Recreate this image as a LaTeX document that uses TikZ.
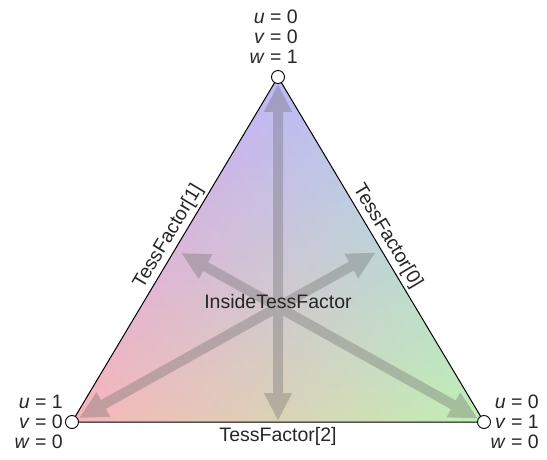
\documentclass[tikz,border=0pt]{standalone}
\usepackage{fontspec}
\setmainfont{Liberation Sans}
\usetikzlibrary{arrows.meta,calc}
\begin{document}
\begin{tikzpicture}[x=1pt,y=1pt,
  lbl/.style={font=\fontsize{19.5}{20}\selectfont, text=black!85, inner sep=0pt},
  vals/.style={lbl, align=right},
  vtx/.style={circle, draw=black, fill=white, line width=0.9pt, minimum size=13pt, inner sep=0pt},
  triedge/.style={draw=black, line width=1pt},
  tessarrow/.style={draw=black!58, line width=10pt, {Triangle[length=28pt,width=26pt]}-{Triangle[length=28pt,width=26pt]}}
]
\useasboundingbox (0,0) rectangle (547,459);
\coordinate (T) at (278,382);
\coordinate (L) at (72,37);
\coordinate (R) at (484,37);
\coordinate (mB) at ($(L)!0.5!(R)$);
\coordinate (mTR) at ($(T)!0.5!(R)$);
\coordinate (mTL) at ($(T)!0.5!(L)$);
% barycentric colour fill
\begin{scope}
\clip (T) -- (L) -- (R) -- cycle;
\foreach \i in {0,...,29}{
  \foreach \j in {0,...,\i}{
    \pgfmathsetmacro{\wT}{1-(\i+2/3)/30}
    \pgfmathsetmacro{\wR}{(\j+1/3)/30}
    \pgfmathsetmacro{\wL}{1-\wT-\wR}
    \pgfmathtruncatemacro{\cR}{190*\wT+248*\wL+192*\wR}
    \pgfmathtruncatemacro{\cG}{185*\wT+182*\wL+240*\wR}
    \pgfmathtruncatemacro{\cB}{248*\wT+186*\wL+182*\wR}
    \definecolor{cc}{RGB}{\cR,\cG,\cB}
    \filldraw[cc, line width=0.7pt, line join=round]
      ({278-206*\i/30+412*\j/30},{382-345*\i/30}) --
      ({278-206*(\i+1)/30+412*\j/30},{382-345*(\i+1)/30}) --
      ({278-206*(\i+1)/30+412*(\j+1)/30},{382-345*(\i+1)/30}) -- cycle;
    \ifnum\j<\i
      \pgfmathsetmacro{\wT}{1-(\i+1/3)/30}
      \pgfmathsetmacro{\wR}{(\j+2/3)/30}
      \pgfmathsetmacro{\wL}{1-\wT-\wR}
      \pgfmathtruncatemacro{\cR}{190*\wT+248*\wL+192*\wR}
      \pgfmathtruncatemacro{\cG}{185*\wT+182*\wL+240*\wR}
      \pgfmathtruncatemacro{\cB}{248*\wT+186*\wL+182*\wR}
      \definecolor{cc}{RGB}{\cR,\cG,\cB}
      \filldraw[cc, line width=0.7pt, line join=round]
        ({278-206*\i/30+412*\j/30},{382-345*\i/30}) --
        ({278-206*\i/30+412*(\j+1)/30},{382-345*\i/30}) --
        ({278-206*(\i+1)/30+412*(\j+1)/30},{382-345*(\i+1)/30}) -- cycle;
    \fi
  }
}
\end{scope}
% arrows
\begin{scope}[transparency group, opacity=0.35]
  \draw[tessarrow, shorten <=7pt, shorten >=1pt] (T) -- (mB);
  \draw[tessarrow, shorten <=8pt, shorten >=6pt] (L) -- (mTR);
  \draw[tessarrow, shorten <=7pt, shorten >=7pt] (R) -- (mTL);
\end{scope}
% edges
\draw[triedge, line join=miter] (T) -- (L) -- (R) -- cycle;
% edge labels
\path (L) -- (T) node[lbl, pos=0.52, sloped, above=3pt] (tf1) {TessFactor[1]};
\path (T) -- (R) node[lbl, pos=0.48, sloped, above=3pt] (tf0) {TessFactor[0]};
\node[lbl, below=5pt] (tf2) at (mB) {TessFactor[2]};
\node[lbl] (itf) at (278,157) {InsideTessFactor};
% vertices
\node[vtx] (vT) at (T) {};
\node[vtx] (vL) at (L) {};
\node[vtx] (vR) at (R) {};
% vertex labels
\node[vals, anchor=east] (lT) at (298,422) {\textit{u} = 0\\\textit{v} = 0\\\textit{w} = 1};
\node[vals, anchor=east] (lL) at (63,37) {\textit{u} = 1\\\textit{v} = 0\\\textit{w} = 0};
\node[vals, anchor=east] (lR) at (539,37) {\textit{u} = 0\\\textit{v} = 1\\\textit{w} = 0};
\end{tikzpicture}
\end{document}
